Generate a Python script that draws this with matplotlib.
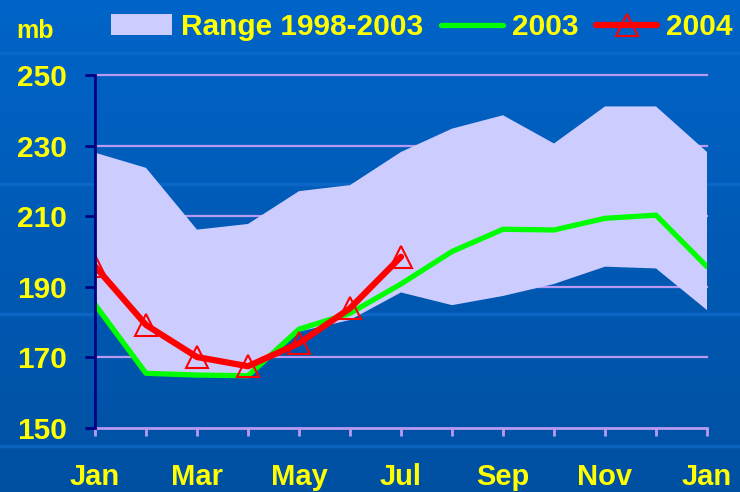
import numpy as np
import matplotlib
matplotlib.use("Agg")
import matplotlib.pyplot as plt  # noqa: E402

plt.rcParams["font.family"] = ["Liberation Sans", "DejaVu Sans"]
plt.rcParams["font.weight"] = "bold"

# --------------------------- data ---------------------------
months = ["Jan", "Feb", "Mar", "Apr", "May", "Jun", "Jul",
          "Aug", "Sep", "Oct", "Nov", "Dec", "Jan"]
tick_labels = ["Jan", "", "Mar", "", "May", "", "Jul",
               "", "Sep", "", "Nov", "", "Jan"]
range_hi = [228.0, 223.7, 206.2, 207.8, 217.1, 218.8, 228.2,
            234.8, 238.6, 230.6, 241.1, 241.1, 228.2]
range_lo = [184.5, 165.0, 164.6, 164.3, 177.3, 180.6, 188.4,
            184.8, 187.4, 190.8, 195.7, 195.2, 183.4]
y2003 = [185.0, 165.5, 165.0, 164.8, 178.0, 182.5, 190.8,
         200.0, 206.3, 206.1, 209.4, 210.3, 195.7]
y2004 = [195.8, 179.2, 170.1, 167.5, 174.0, 183.9, 198.5]
yticks = [150, 170, 190, 210, 230, 250]

YELLOW = "#FFFF00"
LAV = "#B89AF2"
NAVY = "#000080"

fig = plt.figure(figsize=(7.4, 4.92), dpi=100)

# slide background (vertical gradient + faint bands)
bg = fig.add_axes([0, 0, 1, 1])
top = np.array([0, 100, 200]) / 255
bot = np.array([0, 80, 162]) / 255
t = np.linspace(0, 1, 256)[:, None, None]
grad = top * (1 - t) + bot * t
bg.imshow(np.repeat(grad, 2, axis=1), aspect="auto", extent=(0, 740, 492, 0))
for yb in (53, 184, 314, 446):
    bg.axhline(yb, color="#1470D0", lw=2.5, alpha=0.6)
bg.set_xlim(0, 740); bg.set_ylim(492, 0)
bg.axis("off")

ax = fig.add_axes([95 / 740, 64 / 492, 612 / 740, 353 / 492])
ax.patch.set_alpha(0)
x = np.arange(len(months))

# gridlines under the range band
for yv in yticks[1:]:
    ax.axhline(yv, color=LAV, lw=1.6, zorder=0.2, clip_on=False)

fill = ax.fill_between(x, range_lo, range_hi, facecolor="#CCCCFF",
                       edgecolor="none", zorder=2)
l03, = ax.plot(x, y2003, color="#00FF00", lw=3.8, solid_capstyle="round",
               solid_joinstyle="round", zorder=3)
l04, = ax.plot(x[:len(y2004)], y2004, color="#FF0000", lw=4.5, marker="^",
               ms=16, mfc="none", mec="#FF0000", mew=1.5,
               solid_capstyle="round", solid_joinstyle="round", zorder=4)

ax.set_xlim(0, 12)
ax.set_ylim(150, 250)
ax.set_xticks(x)
ax.set_xticklabels(tick_labels)
ax.set_yticks(yticks)

for s in ("top", "right"):
    ax.spines[s].set_visible(False)
ax.spines["left"].set_color(NAVY)
ax.spines["left"].set_linewidth(2)
ax.spines["left"].set_zorder(5)
ax.spines["bottom"].set_color(LAV)
ax.spines["bottom"].set_linewidth(2)

ax.tick_params(axis="y", colors=NAVY, length=7, width=2, pad=13,
               labelsize=21.5, labelcolor=YELLOW)
ax.tick_params(axis="x", colors=LAV, length=6, width=2, pad=19,
               labelsize=21, labelcolor=YELLOW)

fig.text(16 / 740, 1 - 38 / 492, "mb", color=YELLOW, fontsize=18,
         ha="left", va="baseline")

fig.legend(handles=[fill, l03, l04], labels=["Range 1998-2003", "2003", "2004"],
           loc="center left", bbox_to_anchor=(111 / 740, 1 - 27 / 492),
           ncol=3, frameon=False, fontsize=21.5, labelcolor=YELLOW,
           handlelength=2.05, handletextpad=0.3, columnspacing=0.6,
           borderpad=0, borderaxespad=0)

fig.savefig("out.png", dpi=100)
